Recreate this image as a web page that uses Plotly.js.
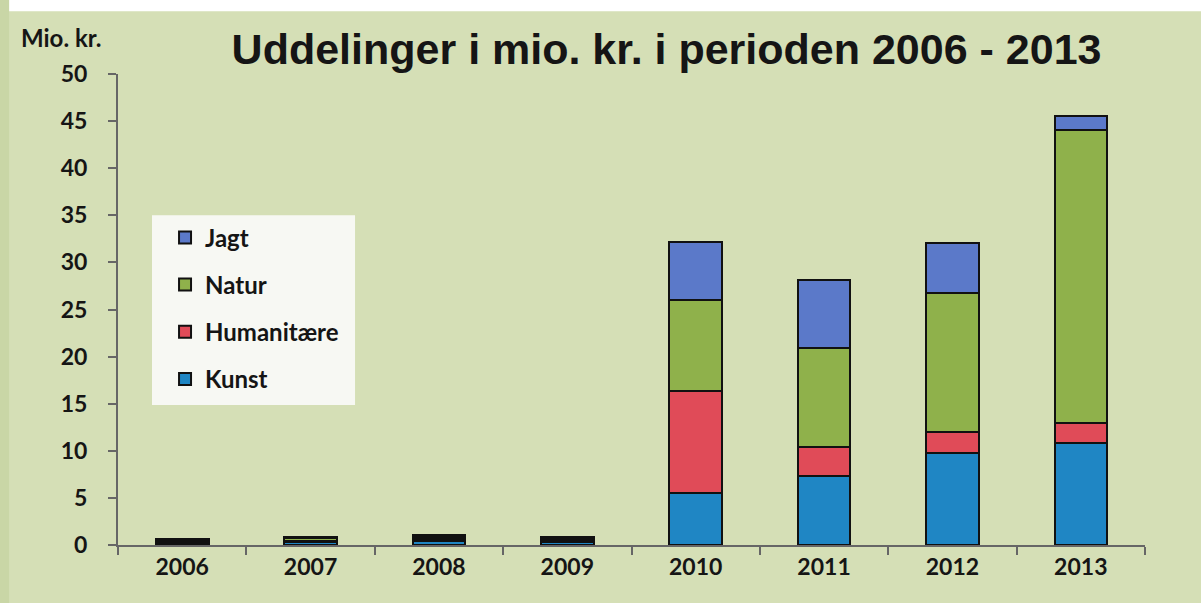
<!DOCTYPE html>
<html>
<head>
<meta charset="utf-8">
<script src="https://cdn.plot.ly/plotly-3.0.1.min.js"></script>
<style>html,body{margin:0;padding:0;background:#d5dfb6;}#chart{width:1201px;height:603px;}</style>
</head>
<body>
<div id="chart"></div>
<script>
const years = ["2006","2007","2008","2009","2010","2011","2012","2013"];
const kunst = [0.2, 0.3, 0.4, 0.3, 5.5, 7.3, 9.8, 10.8];
const humanitaere = [0.1, 0.1, 0.2, 0.2, 10.8, 3.1, 2.2, 2.1];
const natur = [0.2, 0.3, 0.3, 0.2, 9.7, 10.5, 14.8, 31.2];
const jagt = [0.1, 0.1, 0.2, 0.2, 6.2, 7.2, 5.3, 1.4];
const seriesNames = ["Kunst", "Humanitære", "Natur", "Jagt"];
const seriesColors = ["#1f86c4", "#e04b58", "#8fb14b", "#5b79c9"];
const yTicks = [0,5,10,15,20,25,30,35,40,45,50];

const seriesData = [kunst, humanitaere, natur, jagt];
const traces = seriesData.map((vals, i) => ({
  type: "bar",
  x: years,
  y: vals,
  name: seriesNames[i],
  legendgroup: seriesNames[i],
  legendrank: 1000 - i,
  marker: {color: seriesColors[i], line: {color: "#111111", width: 2}},
  hoverinfo: "x+y+name"
}));

const tickFont = {family: "Lato, Open Sans, sans-serif", size: 23, color: "#151515", weight: "bold"};

const layout = {
  width: 1201, height: 603,
  paper_bgcolor: "#d5dfb6",
  plot_bgcolor: "#d5dfb6",
  margin: {l: 118, r: 56, t: 74, b: 58},
  barmode: "stack",
  bargap: 0.59,
  showlegend: true,
  title: {
    text: "<b>Uddelinger i mio. kr. i perioden 2006 - 2013</b>",
    font: {family: "Liberation Sans, Arial, sans-serif", size: 43, color: "#151515"},
    x: 0.555, xanchor: "center", y: 0.918, yanchor: "middle"
  },
  xaxis: {
    type: "category",
    tickmode: "array",
    tickvals: years,
    ticktext: years,
    tickfont: tickFont,
    showline: true, linecolor: "#666666", linewidth: 2,
    ticks: "outside", ticklen: 8, tickcolor: "#666666", tickwidth: 2,
    tickson: "boundaries",
    showgrid: false, zeroline: false,
    fixedrange: true
  },
  yaxis: {
    range: [0, 50],
    tickmode: "array",
    tickvals: yTicks,
    ticktext: yTicks.map(String),
    tickfont: tickFont,
    showline: true, linecolor: "#666666", linewidth: 2,
    ticks: "outside", ticklen: 8, tickcolor: "#666666", tickwidth: 2,
    ticklabelstandoff: 16,
    showgrid: false, zeroline: false,
    fixedrange: true
  },
  legend: {
    x: 0.0458, y: 0.70, xanchor: "left", yanchor: "top",
    bgcolor: "rgba(0,0,0,0)",
    borderwidth: 0,
    traceorder: "grouped",
    tracegroupgap: 13,
    font: {family: "Lato, Open Sans, sans-serif", size: 24, color: "#151515", weight: "bold"},
    itemwidth: 30
  },
  annotations: [{
    text: "<b>Mio. kr.</b>",
    xref: "paper", yref: "paper",
    x: -0.096, y: 1.078, xanchor: "left", yanchor: "middle",
    showarrow: false,
    font: {family: "Lato, Open Sans, sans-serif", size: 24, color: "#151515"}
  }],
  shapes: [
    {type: "rect", xref: "paper", yref: "paper", x0: -0.2, x1: 1.1, y0: 1.133, y1: 1.2,
     fillcolor: "#ffffff", line: {width: 0}, layer: "below"},
    {type: "rect", xref: "paper", yref: "paper", x0: -0.2, x1: -0.106, y0: -0.2, y1: 1.2,
     fillcolor: "#c9d6a6", line: {width: 0}, layer: "below"},
    {type: "rect", xref: "paper", yref: "paper", x0: 0.0331, x1: 0.2308, y0: 0.297, y1: 0.70,
     fillcolor: "#f7f8f3", line: {width: 0}, layer: "below"}
  ]
};

Plotly.newPlot("chart", traces, layout, {displayModeBar: false, staticPlot: true});
</script>
</body>
</html>
